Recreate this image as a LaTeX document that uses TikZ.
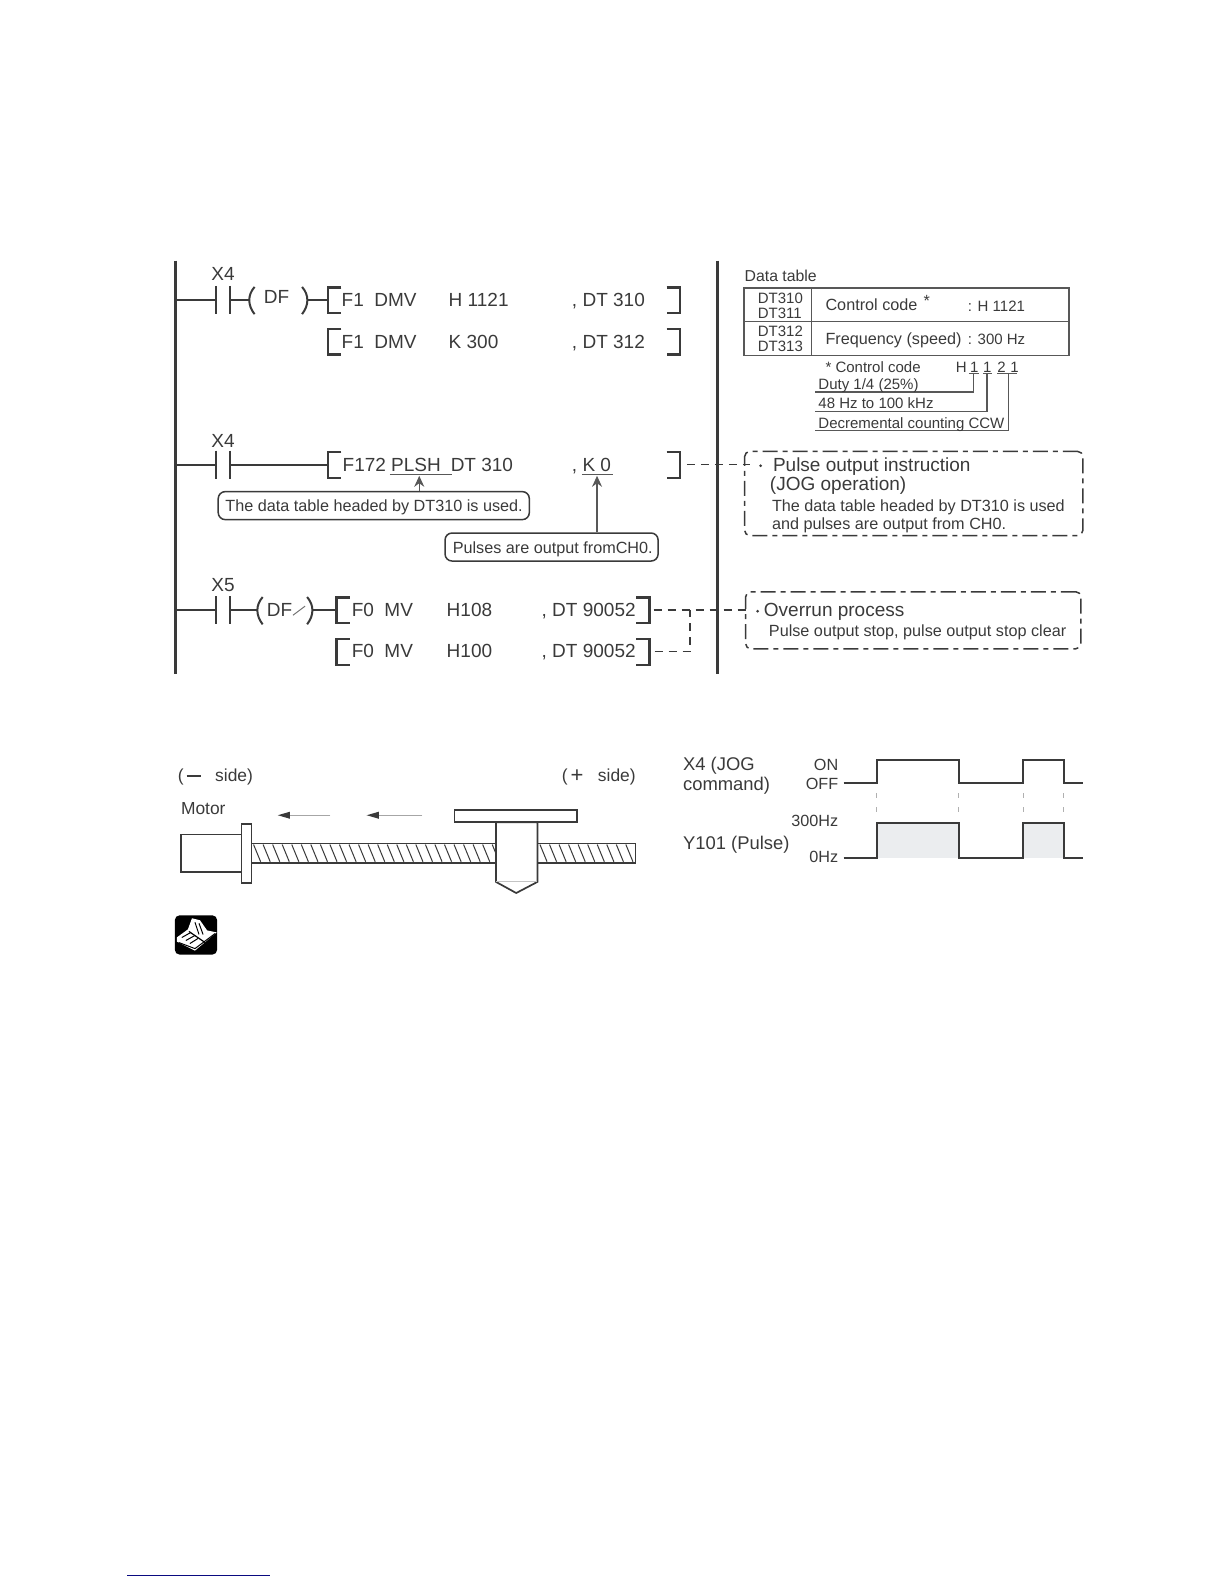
\documentclass[tikz,border=0pt]{standalone}
\usepackage{fontspec}
\usetikzlibrary{arrows.meta}
\setmainfont{Liberation Sans}
\definecolor{ink}{HTML}{3A3A3A}
\definecolor{navyline}{HTML}{0A0A80}
\definecolor{pulsefill}{HTML}{EBEDEF}
\tikzset{
    ladtext/.style={anchor=west, inner sep=0pt, text=ink, font=\fontsize{19}{21}\selectfont, text height=13.6pt, text depth=0pt},
    chartext/.style={anchor=west, inner sep=0pt, text=ink, font=\fontsize{18.4}{21}\selectfont, text height=13.2pt, text depth=0pt},
    midtext/.style={anchor=west, inner sep=0pt, text=ink, font=\fontsize{16.2}{19}\selectfont, text height=11.6pt, text depth=0pt},
    sidetext/.style={anchor=west, inner sep=0pt, text=ink, font=\fontsize{17.4}{19}\selectfont, text height=12.4pt, text depth=0pt},
    smalltext/.style={anchor=west, inner sep=0pt, text=ink, font=\fontsize{15}{17}\selectfont, text height=10.8pt, text depth=0pt},
    rung/.style={draw=ink, line width=2pt},
    rail/.style={draw=ink, line width=3pt},
    bracket/.style={draw=ink, line width=2.2pt},
    linkline/.style={draw=ink, line width=1.5pt, dash pattern=on 8pt off 6pt},
    notebox/.style={draw=ink, line width=1.5pt, rounded corners=7pt, inner sep=0pt, fill=white},
    chainbox/.style={draw=ink, line width=1.5pt, rounded corners=5pt, inner sep=0pt, dash pattern=on 15pt off 5pt on 5pt off 5pt},
    thinline/.style={draw=ink!85, line width=1.2pt},
    part/.style={draw=ink, line width=1.7pt, fill=white},
    wave/.style={draw=ink, line width=2pt},
}
\begin{document}
\begin{tikzpicture}[x=1.0099pt, y=-1.0099pt, >=stealth]
    \useasboundingbox (0,0) rectangle (1212,1568);

    \draw[rail] (174,258) -- (174,667);
    \draw[rail] (710,258) -- (710,667);

    \foreach \y in {297,460,604} {
        \draw[rung] (174,\y) -- (214,\y);
        \draw[rung] (214,\y-14) -- (214,\y+14);
        \draw[rung] (228,\y-14) -- (228,\y+14);
    }
    \draw[rung] (228,297) -- (246,297);
    \draw[rung] (252,284) .. controls (245,292) and (245,302) .. (252,311);
    \draw[rung] (299,284) .. controls (306,292) and (306,302) .. (299,311);
    \draw[rung] (305,297) -- (325,297);
    \draw[rung] (228,460) -- (325,460);
    \draw[rung] (228,604) -- (254,604);
    \draw[rung] (260,591) .. controls (253,599) and (253,609) .. (260,618);
    \draw[rung] (304,591) .. controls (311,599) and (311,609) .. (304,618);
    \draw[rung] (310,604) -- (333,604);
    \draw[draw=ink!70, line width=1pt] (290,609) -- (302,600);

    \foreach \x/\y in {325/297,325/338,325/460,333/604,333/645}
        \draw[bracket] (\x+13,\y-12.5) -- (\x,\y-12.5) -- (\x,\y+13) -- (\x+13,\y+13);
    \foreach \x/\y in {673/297,673/338,673/460,643/604,643/645}
        \draw[bracket] (\x-13,\y-12.5) -- (\x,\y-12.5) -- (\x,\y+13) -- (\x-13,\y+13);

    \node[ladtext] (xa) at (209,271) {X4};
    \node[ladtext] (df) at (261,294) {DF};
    \node[ladtext] (fa) at (338,297) {F1\ \ DMV};
    \node[ladtext] (ha) at (444,297) {H 1121};
    \node[ladtext] (da) at (566,297) {, DT 310};
    \node[ladtext] (fb) at (338,338) {F1\ \ DMV};
    \node[ladtext] (ka) at (444,338) {K 300};
    \node[ladtext] (db) at (566,338) {, DT 312};

    \node[ladtext] (xb) at (209,436) {X4};
    \node[ladtext] (fc) at (339,460) {F172};
    \node[ladtext] (pl) at (387,460) {PLSH};
    \node[ladtext] (dc) at (446,460) {DT 310};
    \node[ladtext] (kb) at (566,460) {, K 0};
    \draw[thinline] (386,470) -- (447,470);
    \draw[thinline] (576,470) -- (607,470);
    \coordinate (plshTip) at (415,471);
    \coordinate (kzeroTip) at (591,471);

    \node[notebox, minimum width=311pt, minimum height=28pt] (usedNote) at (370,500.5) {};
    \node[midtext] (usedText) at (223,501) {The data table headed by DT310 is used.};
    \node[notebox, minimum width=213pt, minimum height=28pt] (chNote) at (546,541.5) {};
    \node[midtext] (chText) at (448,542) {Pulses are output fromCH0.};
    \draw[thinline, -{Stealth[length=11pt,width=10pt]}] (usedNote.north -| plshTip) -- (plshTip);
    \draw[thinline, -{Stealth[length=11pt,width=10pt]}] (chNote.north -| kzeroTip) -- (kzeroTip);

    \node[ladtext] (xc) at (209,579) {X5};
    \node[ladtext] (dg) at (264,604) {DF};
    \node[ladtext] (fd) at (348,604) {F0\ \ MV};
    \node[ladtext] (hb) at (442,604) {H108};
    \node[ladtext] (dd) at (536,604) {, DT 90052};
    \node[ladtext] (fe) at (348,644) {F0\ \ MV};
    \node[ladtext] (hc) at (442,644) {H100};
    \node[ladtext] (de) at (536,644) {, DT 90052};

    \node[ladtext] (dt) at (737,272) {\fontsize{15.8}{17}\selectfont Data table};
    \node[draw=ink!85, line width=1.5pt, inner sep=0pt, minimum width=325pt, minimum height=67.7pt] (tbl) at (897.5,318.5) {};
    \coordinate (midRow) at (803,318.5);
    \draw[draw=ink!85, line width=1.2pt] (tbl.west) -- (tbl.east);
    \draw[draw=ink!85, line width=1.2pt] (tbl.north -| midRow) -- (tbl.south -| midRow);
    \node[smalltext] (ta) at (750,295) {DT310};
    \node[smalltext] (tb) at (750,310) {DT311};
    \node[smalltext] (tc) at (750,328) {DT312};
    \node[smalltext] (td) at (750,343) {DT313};
    \node[midtext] (cc) at (817,302) {Control code};
    \node[midtext] (st) at (914,298) {*};
    \node[smalltext] (cv) at (958,303) {: H 1121};
    \node[midtext] (fq) at (817,335) {Frequency (speed)};
    \node[smalltext] (fv) at (958,336) {: 300 Hz};

    \node[smalltext] (cn) at (817,363) {* Control code};
    \node[smalltext] (hh) at (946,363) {H};
    \node[smalltext] (na) at (960,363) {1};
    \node[smalltext] (nb) at (973,363) {1};
    \node[smalltext] (nc) at (987,363) {2};
    \node[smalltext] (nd) at (1000,363) {1};
    \draw[thinline] (959,370) -- (969,370);
    \draw[thinline] (973,370) -- (982,370);
    \draw[thinline] (987,370) -- (1007,370);
    \draw[thinline] (807,388) -- (964,388) -- (964,370);
    \draw[thinline] (807,407) -- (977,407) -- (977,370);
    \draw[thinline] (807,426) -- (998,426) -- (998,370);
    \node[smalltext] (du) at (810,380.5) {Duty 1/4 (25\%)};
    \node[smalltext] (hz) at (810,399.5) {48 Hz to 100 kHz};
    \node[smalltext] (dc2) at (810,418.5) {Decremental counting CCW};

    \node[chainbox, minimum width=338pt, minimum height=84pt] (jogBox) at (904.5,488.5) {};
    \node[chainbox, minimum width=335pt, minimum height=57pt] (stopBox) at (904,614) {};
    \coordinate (jogEnd) at (680,460);
    \coordinate (mvEnd) at (647,604);
    \coordinate (mvLow) at (648,645);
    \draw[linkline] (jogEnd) -- (jogBox.west |- jogEnd) -- +(6,0);
    \draw[linkline] (mvEnd) -- (stopBox.west |- mvEnd) -- +(4,0);
    \draw[linkline] (mvLow) -- (683,645) -- (683,604);

    \node[fill=ink, circle, inner sep=0pt, minimum size=3pt] (dota) at (753,461) {};
    \node[ladtext] (pa) at (765,460) {Pulse output instruction};
    \node[ladtext] (pb) at (762,479) {(JOG operation)};
    \node[midtext] (pc) at (764,501) {The data table headed by DT310 is used};
    \node[midtext] (pd) at (764,518) {and pulses are output from CH0.};
    \node[fill=ink, circle, inner sep=0pt, minimum size=3pt] (dotb) at (750,605) {};
    \node[ladtext] (oa) at (756,604) {Overrun process};
    \node[midtext] (ob) at (761,624) {Pulse output stop, pulse output stop clear};

    \node[sidetext] (ms) at (176,767) {(\,\rule[4.5pt]{14pt}{1.3pt}\ \ \ side)};
    \node[sidetext] (ps) at (556,767) {(\,\raisebox{-1pt}{\fontsize{22}{22}\selectfont +}\ \ \ side)};
    \node[sidetext] (mo) at (179,800) {Motor};

    \draw[part] (179,826) rectangle (239,863);
    \draw[part] (249,835) rectangle (629,854);
    \foreach \x in {0,...,39}
        \draw[draw=ink, line width=1pt] (251+\x*9.45,836) -- (258+\x*9.45,853);
    \draw[part] (239,816) rectangle (249,874);
    \draw[part] (491,814) -- (491,873) -- (511,884) -- (532,873) -- (532,814) -- cycle;
    \draw[draw=ink!30, line width=1pt] (491,873) -- (532,873);
    \draw[part] (450,802) rectangle (571,814);
    \draw[draw=ink!45, line width=1pt] (327,807) -- (286,807);
    \draw[draw=ink!45, line width=1pt] (418,807) -- (374,807);
    \fill[ink] (275,807) -- (287,803.5) -- (287,810.5) -- cycle;
    \fill[ink] (363,807) -- (375,803.5) -- (375,810.5) -- cycle;

    \fill[black, rounded corners=5pt] (173,906) rectangle (215,945);
    \fill[white] (175,928) -- (186,920) -- (190,909) -- (198,911) -- (205,921) -- (214.5,923) -- (193,941) -- (175,932) -- cycle;
    \draw[black, line width=1pt] (180,928) -- (189,923);
    \draw[black, line width=1pt] (184,931) -- (193,926);
    \draw[black, line width=1pt] (188,934) -- (196,929);
    \draw[black, line width=1pt] (193,913) -- (197,925);
    \draw[black, line width=1pt] (197,914) -- (201,925);
    \draw[black, line width=1.2pt] (187,922) -- (203,933);
    \draw[black, line width=1pt] (177,933) -- (193,939) -- (213,924);

    \node[chartext] (xj) at (676,756) {X4 (JOG};
    \node[chartext] (cm) at (676,776) {command)};
    \node[chartext] (yp) at (676,834) {Y101 (Pulse)};
    \node[midtext, anchor=east] (on) at (830,757) {ON};
    \node[midtext, anchor=east] (of) at (830,776) {OFF};
    \node[midtext, anchor=east] (hi) at (830,812) {300Hz};
    \node[midtext, anchor=east] (lo) at (830,848) {0Hz};

    \fill[pulsefill] (868,815) rectangle (949,849);
    \fill[pulsefill] (1013,815) rectangle (1053,849);
    \foreach \x in {868,949,1013,1053}
        \draw[draw=ink!40, line width=.8pt, dash pattern=on 5pt off 9pt] (\x,785) -- (\x,809);
    \draw[wave] (835,775) -- (868,775) -- (868,752) -- (949,752) -- (949,775) -- (1013,775) -- (1013,752) -- (1053,752) -- (1053,775) -- (1072,775);
    \draw[wave] (835,849) -- (868,849) -- (868,815) -- (949,815) -- (949,849) -- (1013,849) -- (1013,815) -- (1053,815) -- (1053,849) -- (1072,849);

    \draw[draw=navyline, line width=1.5pt] (126,1559.5) -- (267,1559.5);
\end{tikzpicture}
\end{document}
